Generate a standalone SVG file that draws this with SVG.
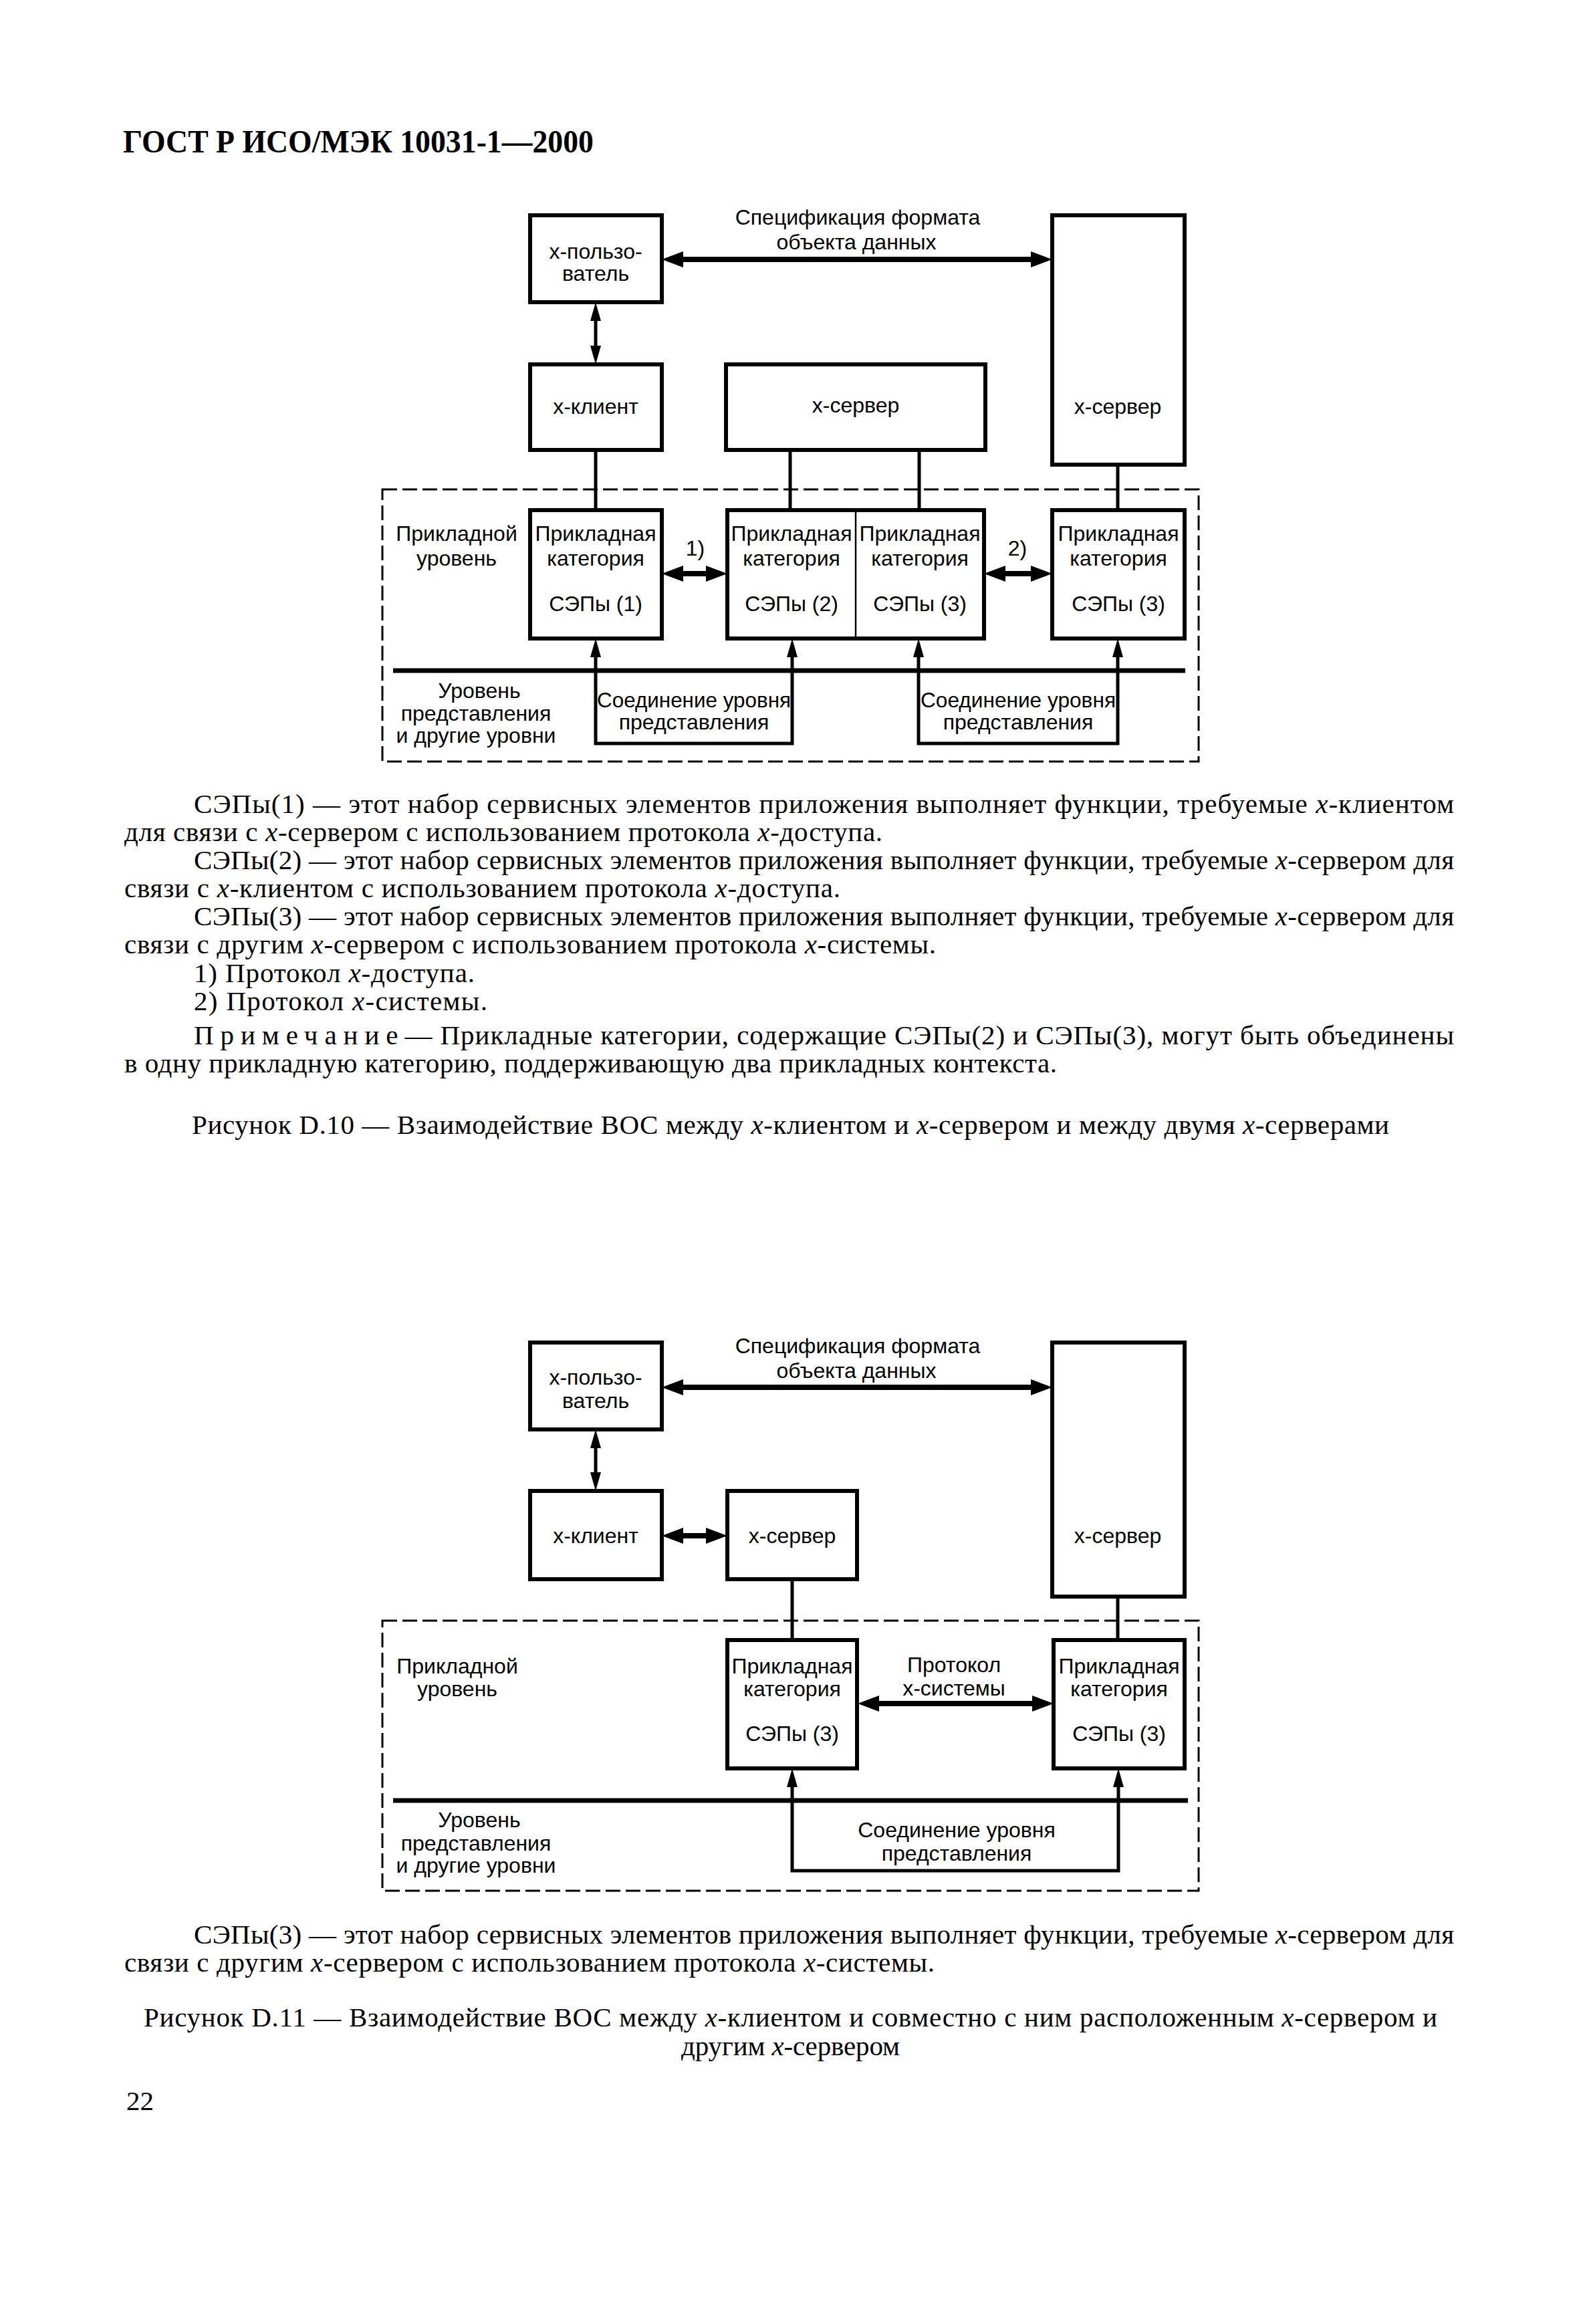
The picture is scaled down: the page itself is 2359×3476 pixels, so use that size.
<svg xmlns="http://www.w3.org/2000/svg" width="2359" height="3476" viewBox="0 0 2359 3476">
<style>
.box{fill:#fff;stroke:#000;stroke-width:6}
.div{stroke:#000;stroke-width:2.5}
.dash{fill:none;stroke:#000;stroke-width:3;stroke-dasharray:22 8}
.ln{fill:none;stroke:#000;stroke-width:5}
.thk{fill:none;stroke:#000;stroke-width:8}
.sep{fill:none;stroke:#000;stroke-width:7}
.lbl{font-family:"Liberation Sans",Arial,sans-serif;font-size:32px;text-anchor:middle;fill:#000}
.body{font-family:"Liberation Serif","Times New Roman",serif;font-size:41px;fill:#000}
.hdr{font-family:"Liberation Serif","Times New Roman",serif;font-size:48px;font-weight:bold;fill:#000}
.i{font-style:italic}
</style>
<defs>
<marker id="ah" viewBox="0 0 32 24" refX="20" refY="12" markerWidth="32" markerHeight="24" orient="auto-start-reverse" markerUnits="userSpaceOnUse"><path d="M0,0 L32,12 L0,24 z" fill="#000"/></marker>
<marker id="av" viewBox="0 0 28 16" refX="18" refY="8" markerWidth="28" markerHeight="16" orient="auto-start-reverse" markerUnits="userSpaceOnUse"><path d="M0,0 L28,8 L0,16 z" fill="#000"/></marker>
</defs>
<rect width="2359" height="3476" fill="#fff"/>

<text class="hdr" x="184" y="228" textLength="704" lengthAdjust="spacingAndGlyphs">ГОСТ Р ИСО/МЭК 10031-1—2000</text>

<!-- ============ Figure D.10 ============ -->
<g id="fig10-connectors">
<path class="thk" d="M1002,388 H1562" marker-start="url(#ah)" marker-end="url(#ah)"/>
<path class="ln" d="M891,462 V535" marker-start="url(#av)" marker-end="url(#av)"/>
<path class="ln" d="M891,673 V763"/>
<path class="ln" d="M1182,673 V763"/>
<path class="ln" d="M1375,673 V763"/>
<path class="ln" d="M1672,695 V763"/>
<path class="thk" d="M1002,858 H1076" marker-start="url(#ah)" marker-end="url(#ah)"/>
<path class="thk" d="M1484,858 H1562" marker-start="url(#ah)" marker-end="url(#ah)"/>
<path class="sep" d="M588,1003 H1773"/>
<path class="ln" d="M891,965 V1112 H1185 V965" marker-start="url(#av)" marker-end="url(#av)"/>
<path class="ln" d="M1374,965 V1112 H1672 V965" marker-start="url(#av)" marker-end="url(#av)"/>
</g>
<g id="fig10-dashed"><rect class="dash" x="572" y="732" width="1221" height="407"/></g>
<g id="fig10-spec"><text class="lbl" x="1283" y="336">Спецификация формата</text><text class="lbl" x="1281" y="373">объекта данных</text></g>
<g id="fig10-user"><rect class="box" x="793" y="322" width="197" height="130"/><text class="lbl" x="891" y="387"><tspan>x-пользо-</tspan><tspan x="891" y="420">ватель</tspan></text></g>
<g id="fig10-client"><rect class="box" x="793" y="545" width="197" height="128"/><text class="lbl" x="891" y="619">x-клиент</text></g>
<g id="fig10-server1"><rect class="box" x="1086" y="545" width="388" height="128"/><text class="lbl" x="1280" y="617">x-сервер</text></g>
<g id="fig10-server2"><rect class="box" x="1574" y="322" width="198" height="373"/><text class="lbl" x="1672" y="619">x-сервер</text></g>
<g id="fig10-applevel"><text class="lbl" x="683" y="809">Прикладной</text><text class="lbl" x="683" y="846">уровень</text></g>
<g id="fig10-app1"><rect class="box" x="793" y="763" width="197" height="192"/><text class="lbl" x="891" y="809">Прикладная</text><text class="lbl" x="891" y="846">категория</text><text class="lbl" x="891" y="914">СЭПы (1)</text></g>
<g id="fig10-app23"><rect class="box" x="1088" y="763" width="384" height="192"/><line class="div" x1="1280" y1="766" x2="1280" y2="952"/>
<text class="lbl" x="1184" y="809">Прикладная</text><text class="lbl" x="1184" y="846">категория</text><text class="lbl" x="1184" y="914">СЭПы (2)</text>
<text class="lbl" x="1376" y="809">Прикладная</text><text class="lbl" x="1376" y="846">категория</text><text class="lbl" x="1376" y="914">СЭПы (3)</text></g>
<g id="fig10-app3"><rect class="box" x="1574" y="763" width="198" height="192"/><text class="lbl" x="1673" y="809">Прикладная</text><text class="lbl" x="1673" y="846">категория</text><text class="lbl" x="1673" y="914">СЭПы (3)</text></g>
<g id="fig10-lbl1"><text class="lbl" x="1040" y="831">1)</text></g>
<g id="fig10-lbl2"><text class="lbl" x="1522" y="831">2)</text></g>
<g id="fig10-pres1"><text class="lbl" x="1038" y="1058" textLength="290" lengthAdjust="spacingAndGlyphs">Соединение уровня</text><text class="lbl" x="1038" y="1091">представления</text></g>
<g id="fig10-pres2"><text class="lbl" x="1523" y="1058" textLength="292" lengthAdjust="spacingAndGlyphs">Соединение уровня</text><text class="lbl" x="1523" y="1091">представления</text></g>
<g id="fig10-lowlevel"><text class="lbl" x="717" y="1044">Уровень</text><text class="lbl" x="712" y="1078">представления</text><text class="lbl" x="712" y="1111">и другие уровни</text></g>

<g id="fig10-text">
<text class="body" x="290" y="1216" textLength="1885" lengthAdjust="spacing">СЭПы(1) — этот набор сервисных элементов приложения выполняет функции, требуемые <tspan class="i">x</tspan>-клиентом</text>
<text class="body" x="186" y="1258" textLength="1134" lengthAdjust="spacing">для связи с <tspan class="i">x</tspan>-сервером с использованием протокола <tspan class="i">x</tspan>-доступа.</text>
<text class="body" x="290" y="1300" textLength="1885" lengthAdjust="spacing">СЭПы(2) — этот набор сервисных элементов приложения выполняет функции, требуемые <tspan class="i">x</tspan>-сервером для</text>
<text class="body" x="186" y="1342" textLength="1071" lengthAdjust="spacing">связи с <tspan class="i">x</tspan>-клиентом с использованием протокола <tspan class="i">x</tspan>-доступа.</text>
<text class="body" x="290" y="1384" textLength="1885" lengthAdjust="spacing">СЭПы(3) — этот набор сервисных элементов приложения выполняет функции, требуемые <tspan class="i">x</tspan>-сервером для</text>
<text class="body" x="186" y="1426" textLength="1214" lengthAdjust="spacing">связи с другим <tspan class="i">x</tspan>-сервером с использованием протокола <tspan class="i">x</tspan>-системы.</text>
<text class="body" x="290" y="1469" textLength="420" lengthAdjust="spacing">1) Протокол <tspan class="i">x</tspan>-доступа.</text>
<text class="body" x="290" y="1511" textLength="439" lengthAdjust="spacing">2) Протокол <tspan class="i">x</tspan>-системы.</text>
<text class="body" x="290" y="1562" textLength="1885" lengthAdjust="spacing"><tspan letter-spacing="9">Примечание</tspan>— Прикладные категории, содержащие СЭПы(2) и СЭПы(3), могут быть объединены</text>
<text class="body" x="186" y="1604" textLength="1395" lengthAdjust="spacing">в одну прикладную категорию, поддерживающую два прикладных контекста.</text>
<text class="body" x="287" y="1696" textLength="1791" lengthAdjust="spacing">Рисунок D.10 — Взаимодействие ВОС между <tspan class="i">x</tspan>-клиентом и <tspan class="i">x</tspan>-сервером и между двумя <tspan class="i">x</tspan>-серверами</text>
</g>

<!-- ============ Figure D.11 ============ -->
<g id="fig11-connectors">
<path class="thk" d="M1002,2075 H1562" marker-start="url(#ah)" marker-end="url(#ah)"/>
<path class="ln" d="M891,2148 V2220" marker-start="url(#av)" marker-end="url(#av)"/>
<path class="thk" d="M1002,2297 H1076" marker-start="url(#ah)" marker-end="url(#ah)"/>
<path class="ln" d="M1185,2362 V2453"/>
<path class="ln" d="M1672,2388 V2453"/>
<path class="thk" d="M1295,2548 H1564" marker-start="url(#ah)" marker-end="url(#ah)"/>
<path class="sep" d="M588,2693 H1777"/>
<path class="ln" d="M1185,2655 V2798 H1673 V2655" marker-start="url(#av)" marker-end="url(#av)"/>
</g>
<g id="fig11-dashed"><rect class="dash" x="572" y="2424" width="1221" height="404"/></g>
<g id="fig11-spec"><text class="lbl" x="1283" y="2024">Спецификация формата</text><text class="lbl" x="1281" y="2061">объекта данных</text></g>
<g id="fig11-user"><rect class="box" x="793" y="2008" width="197" height="130"/><text class="lbl" x="891" y="2071"><tspan>x-пользо-</tspan><tspan x="891" y="2106">ватель</tspan></text></g>
<g id="fig11-client"><rect class="box" x="793" y="2230" width="197" height="132"/><text class="lbl" x="891" y="2308">x-клиент</text></g>
<g id="fig11-server1"><rect class="box" x="1088" y="2230" width="194" height="132"/><text class="lbl" x="1185" y="2308">x-сервер</text></g>
<g id="fig11-server2"><rect class="box" x="1574" y="2008" width="198" height="380"/><text class="lbl" x="1672" y="2308">x-сервер</text></g>
<g id="fig11-applevel"><text class="lbl" x="684" y="2503">Прикладной</text><text class="lbl" x="684" y="2537">уровень</text></g>
<g id="fig11-app1"><rect class="box" x="1088" y="2453" width="194" height="192"/><text class="lbl" x="1185" y="2503">Прикладная</text><text class="lbl" x="1185" y="2537">категория</text><text class="lbl" x="1185" y="2604">СЭПы (3)</text></g>
<g id="fig11-app2"><rect class="box" x="1576" y="2453" width="196" height="192"/><text class="lbl" x="1674" y="2503">Прикладная</text><text class="lbl" x="1674" y="2537">категория</text><text class="lbl" x="1674" y="2604">СЭПы (3)</text></g>
<g id="fig11-proto"><text class="lbl" x="1427" y="2501">Протокол</text><text class="lbl" x="1427" y="2536">x-системы</text></g>
<g id="fig11-pres"><text class="lbl" x="1431" y="2748">Соединение уровня</text><text class="lbl" x="1431" y="2783">представления</text></g>
<g id="fig11-lowlevel"><text class="lbl" x="717" y="2733">Уровень</text><text class="lbl" x="712" y="2768">представления</text><text class="lbl" x="712" y="2801">и другие уровни</text></g>

<g id="fig11-text">
<text class="body" x="290" y="2907" textLength="1885" lengthAdjust="spacing">СЭПы(3) — этот набор сервисных элементов приложения выполняет функции, требуемые <tspan class="i">x</tspan>-сервером для</text>
<text class="body" x="186" y="2949" textLength="1212" lengthAdjust="spacing">связи с другим <tspan class="i">x</tspan>-сервером с использованием протокола <tspan class="i">x</tspan>-системы.</text>
<text class="body" x="215" y="3031" textLength="1935" lengthAdjust="spacing">Рисунок D.11 — Взаимодействие ВОС между <tspan class="i">x</tspan>-клиентом и совместно с ним расположенным <tspan class="i">x</tspan>-сервером и</text>
<text class="body" x="1019" y="3074" textLength="327" lengthAdjust="spacing">другим <tspan class="i">x</tspan>-сервером</text>
<text class="body" x="189" y="3156">22</text>
</g>
</svg>
